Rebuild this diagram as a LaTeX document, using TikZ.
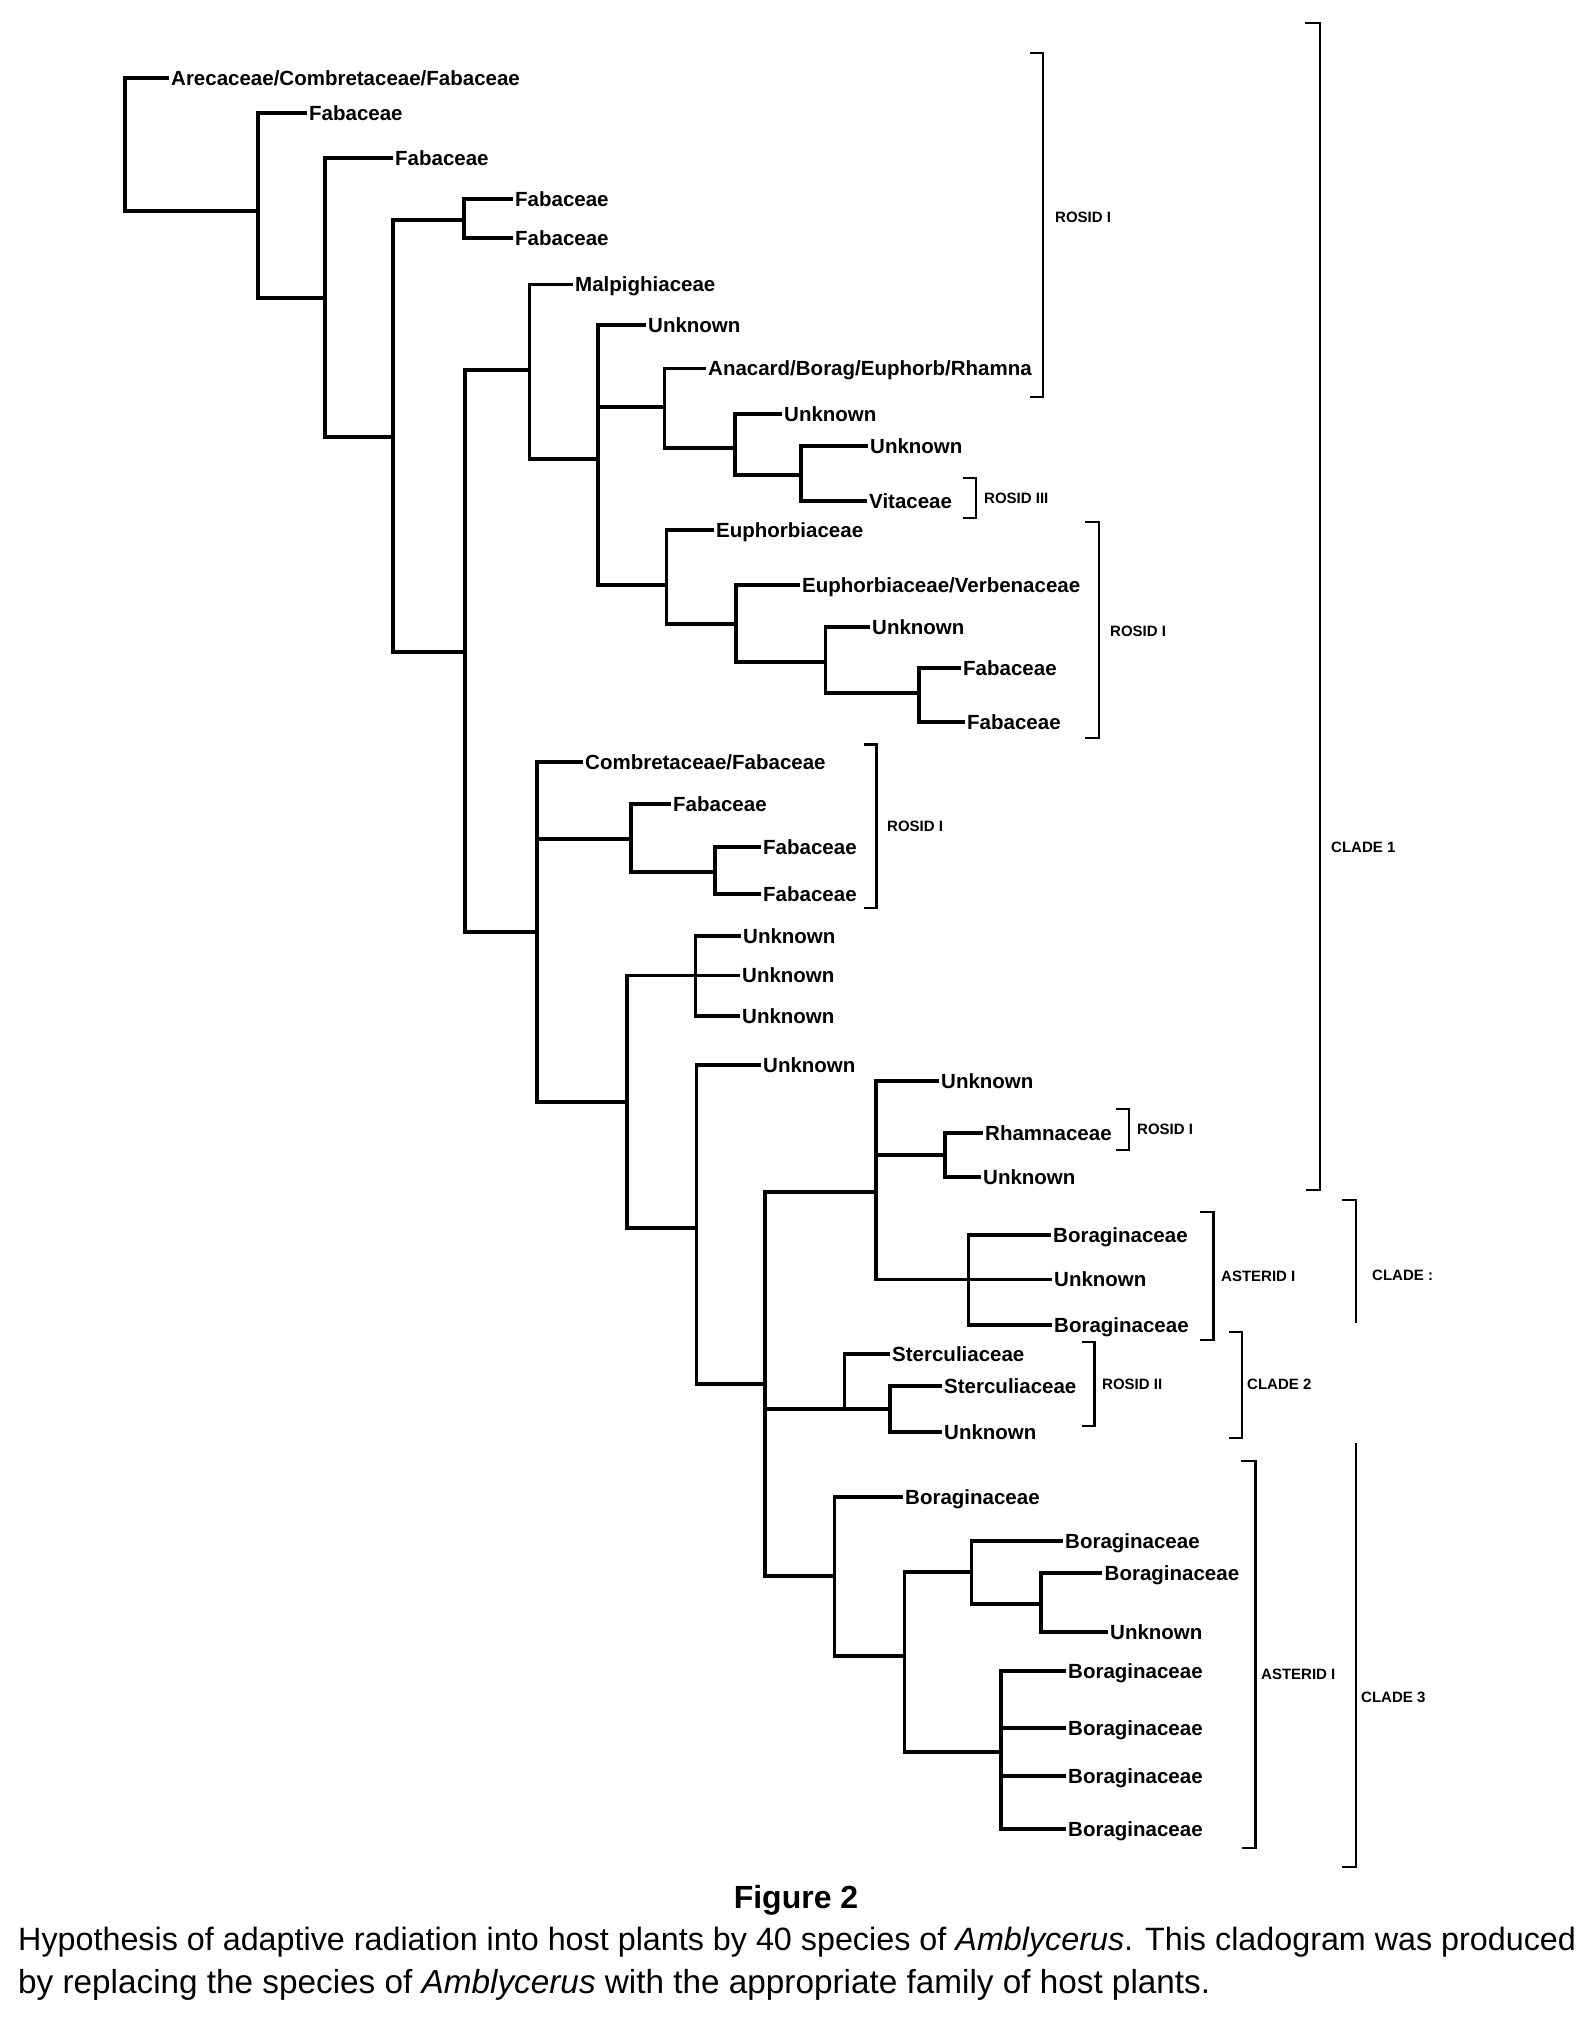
\documentclass[tikz,border=0pt]{standalone}
\usepackage{fontspec}
\setmainfont{Liberation Sans}
\usepackage{tikz}
\newcommand{\leaffont}{\fontsize{20.5pt}{24pt}\selectfont\bfseries}
\newcommand{\grpfont}{\fontsize{15pt}{18pt}\selectfont\bfseries}
\newcommand{\figfont}{\fontsize{32pt}{38pt}\selectfont\bfseries}
\newcommand{\capfont}{\fontsize{32.3pt}{39pt}\selectfont}
\newcommand{\capfontb}{\fontsize{33.3pt}{39pt}\selectfont}

\begin{document}
\begin{tikzpicture}[x=1pt,y=-1pt,
  leaf/.style={anchor=west,inner xsep=4pt,inner ysep=0pt,text height=14.7pt,text depth=0pt,font=\leaffont},
  grp/.style={anchor=west,inner sep=0pt,text height=10.7pt,text depth=0pt,font=\grpfont},
  br/.style={line width=3.1pt,line cap=rect},
  bk/.style={line width=2.5pt}
]
  \useasboundingbox (0,0) rectangle (1593,2018);

  \coordinate (root) at (125,211);
  \coordinate (n2)  at (258,211);
  \coordinate (n3)  at (325,298);
  \coordinate (n4)  at (393,437);
  \coordinate (n5)  at (464,220);
  \coordinate (n6)  at (465,652);
  \coordinate (n7)  at (529.5,370);
  \coordinate (n8)  at (598,459);
  \coordinate (n9)  at (664.5,407);
  \coordinate (n10) at (735,448);
  \coordinate (n11) at (801,475);
  \coordinate (n12) at (666.5,585);
  \coordinate (n13) at (736,624);
  \coordinate (n14) at (825.5,662);
  \coordinate (n15) at (919,693);
  \coordinate (n16) at (537,932);
  \coordinate (n17) at (631,839);
  \coordinate (n18) at (715,872);
  \coordinate (n19) at (627,1102);
  \coordinate (n20) at (695.5,975.5);
  \coordinate (n21) at (696.5,1228);
  \coordinate (n22) at (765,1384);
  \coordinate (n23) at (876,1192);
  \coordinate (n24) at (945,1155);
  \coordinate (n25) at (968.5,1279.5);
  \coordinate (n26) at (844.6,1409);
  \coordinate (n27) at (890,1409);
  \coordinate (n28) at (834.5,1576);
  \coordinate (n29) at (904.5,1656);
  \coordinate (n30) at (971.5,1572);
  \coordinate (n31) at (1041,1604);
  \coordinate (n32) at (1001,1752);

  \node[leaf] (t1)  at (167,78)     {Arecaceae/Combretaceae/Fabaceae};
  \node[leaf] (t2)  at (305,113)    {Fabaceae};
  \node[leaf] (t3)  at (391,158)    {Fabaceae};
  \node[leaf] (t4)  at (511,199)    {Fabaceae};
  \node[leaf] (t5)  at (511,238)    {Fabaceae};
  \node[leaf] (t6)  at (571,284.5)  {Malpighiaceae};
  \node[leaf] (t7)  at (644,325)    {Unknown};
  \node[leaf] (t8)  at (704,368.5)  {Anacard/Borag/Euphorb/Rhamna};
  \node[leaf] (t9)  at (780,414)    {Unknown};
  \node[leaf] (t10) at (866,446)    {Unknown};
  \node[leaf] (t11) at (865,501)    {Vitaceae};
  \node[leaf] (t12) at (712,530)    {Euphorbiaceae};
  \node[leaf] (t13) at (798,585)    {Euphorbiaceae/Verbenaceae};
  \node[leaf] (t14) at (868,627)    {Unknown};
  \node[leaf] (t15) at (959,668)    {Fabaceae};
  \node[leaf] (t16) at (963,722)    {Fabaceae};
  \node[leaf] (t17) at (581,762)    {Combretaceae/Fabaceae};
  \node[leaf] (t18) at (669,804)    {Fabaceae};
  \node[leaf] (t19) at (759,847)    {Fabaceae};
  \node[leaf] (t20) at (759,894)    {Fabaceae};
  \node[leaf] (t21) at (739,936)    {Unknown};
  \node[leaf] (t22) at (738,975.5)  {Unknown};
  \node[leaf] (t23) at (738,1016)   {Unknown};
  \node[leaf] (t24) at (759,1065)   {Unknown};
  \node[leaf] (t25) at (937,1081)   {Unknown};
  \node[leaf] (t26) at (981,1133)   {Rhamnaceae};
  \node[leaf] (t27) at (979,1177)   {Unknown};
  \node[leaf] (t28) at (1049,1235)  {Boraginaceae};
  \node[leaf] (t29) at (1050,1279.5){Unknown};
  \node[leaf] (t30) at (1050,1325)  {Boraginaceae};
  \node[leaf] (t31) at (888,1354)   {Sterculiaceae};
  \node[leaf] (t32) at (940,1386)   {Sterculiaceae};
  \node[leaf] (t33) at (940,1432)   {Unknown};
  \node[leaf] (t34) at (901,1497)   {Boraginaceae};
  \node[leaf] (t35) at (1061,1541)  {Boraginaceae};
  \node[leaf] (t36) at (1100.5,1573){Boraginaceae};
  \node[leaf] (t37) at (1106,1632)  {Unknown};
  \node[leaf] (t38) at (1064,1671)  {Boraginaceae};
  \node[leaf] (t39) at (1064,1728)  {Boraginaceae};
  \node[leaf] (t40) at (1064,1776)  {Boraginaceae};
  \node[leaf] (t41) at (1064,1829)  {Boraginaceae};

  \draw[br] (root) |- (t1.west); \draw[br] (root) |- (n2);
  \draw[br] (n2) |- (t2.west); \draw[br] (n2) |- (n3);
  \draw[br] (n3) |- (t3.west); \draw[br] (n3) |- (n4);
  \draw[br] (n4) |- (n5); \draw[br] (n4) |- (n6);
  \draw[br] (n5) |- (t4.west); \draw[br] (n5) |- (t5.west);
  \draw[br] (n6) |- (n7); \draw[br] (n6) |- (n16);
  \draw[br] (n7) |- (t6.west); \draw[br] (n7) |- (n8);
  \draw[br] (n8) |- (t7.west); \draw[br] (n8) |- (n9); \draw[br] (n8) |- (n12);
  \draw[br] (n9) |- (t8.west); \draw[br] (n9) |- (n10);
  \draw[br] (n10) |- (t9.west); \draw[br] (n10) |- (n11);
  \draw[br] (n11) |- (t10.west); \draw[br] (n11) |- (t11.west);
  \draw[br] (n12) |- (t12.west); \draw[br] (n12) |- (n13);
  \draw[br] (n13) |- (t13.west); \draw[br] (n13) |- (n14);
  \draw[br] (n14) |- (t14.west); \draw[br] (n14) |- (n15);
  \draw[br] (n15) |- (t15.west); \draw[br] (n15) |- (t16.west);
  \draw[br] (n16) |- (t17.west); \draw[br] (n16) |- (n17); \draw[br] (n16) |- (n19);
  \draw[br] (n17) |- (t18.west); \draw[br] (n17) |- (n18);
  \draw[br] (n18) |- (t19.west); \draw[br] (n18) |- (t20.west);
  \draw[br] (n19) |- (n20); \draw[br] (n19) |- (n21);
  \draw[br] (n20) |- (t21.west); \draw[br] (n20) |- (t22.west); \draw[br] (n20) |- (t23.west);
  \draw[br] (n21) |- (t24.west); \draw[br] (n21) |- (n22);
  \draw[br] (n22) |- (n23); \draw[br] (n22) |- (n26); \draw[br] (n22) |- (n28);
  \draw[br] (n23) |- (t25.west); \draw[br] (n23) |- (n24); \draw[br] (n23) |- (n25);
  \draw[br] (n24) |- (t26.west); \draw[br] (n24) |- (t27.west);
  \draw[br] (n25) |- (t28.west); \draw[br] (n25) |- (t29.west); \draw[br] (n25) |- (t30.west);
  \draw[br] (n26) |- (t31.west); \draw[br] (n26) |- (n27);
  \draw[br] (n27) |- (t32.west); \draw[br] (n27) |- (t33.west);
  \draw[br] (n28) |- (t34.west); \draw[br] (n28) |- (n29);
  \draw[br] (n29) |- (n30); \draw[br] (n29) |- (n32);
  \draw[br] (n30) |- (t35.west); \draw[br] (n30) |- (n31);
  \draw[br] (n31) |- (t36.west); \draw[br] (n31) |- (t37.west);
  \draw[br] (n32) |- (t38.west); \draw[br] (n32) |- (t39.west);
  \draw[br] (n32) |- (t40.west); \draw[br] (n32) |- (t41.west);

  \draw[bk] (1030,53) -| (1043,397) -- (1030,397);
  \draw[bk] (963,478) -| (976,518) -- (963,518);
  \draw[bk] (1085,522) -| (1099,738) -- (1085,738);
  \draw[bk] (864,744.5) -| (876.5,908) -- (864,908);
  \draw[bk] (1116,1109) -| (1129,1150) -- (1116,1150);
  \draw[bk] (1200,1212) -| (1213.5,1340) -- (1200,1340);
  \draw[bk] (1082,1342) -| (1094.5,1426) -- (1082,1426);
  \draw[bk] (1229,1332) -| (1242,1438) -- (1229,1438);
  \draw[bk] (1241,1461) -| (1255.5,1848) -- (1242,1848);
  \draw[bk] (1305,23) -| (1320,1190) -- (1306,1190);
  \draw[bk] (1342,1200) -| (1356,1323);
  \draw[bk] (1356,1443) |- (1342,1867);

  \node[grp] (rosid1a) at (1055,217)  {ROSID I};
  \node[grp] (rosid3)  at (984,498)   {ROSID III};
  \node[grp] (rosid1b) at (1110,631)  {ROSID I};
  \node[grp] (rosid1c) at (887,826)   {ROSID I};
  \node[grp] (rosid1d) at (1137,1129) {ROSID I};
  \node[grp] (aster1a) at (1221,1276) {ASTERID I};
  \node[grp] (rosid2)  at (1102,1384) {ROSID II};
  \node[grp] (clade2)  at (1247,1384) {CLADE 2};
  \node[grp] (aster1b) at (1261,1674) {ASTERID I};
  \node[grp] (clade1)  at (1331,847)  {CLADE 1};
  \node[grp] (cladex)  at (1372,1275) {CLADE :};
  \node[grp] (clade3)  at (1361,1697) {CLADE 3};

  \node[anchor=base,inner sep=0pt,font=\figfont] (fig) at (796,1908) {Figure 2};
  \node[anchor=base west,inner sep=0pt,font=\capfont] (cap1) at (18,1950)
    {Hypothesis of adaptive radiation into host plants by 40 species of \textit{Amblycerus}. This cladogram was produced};
  \node[anchor=base west,inner sep=0pt,font=\capfontb] (cap2) at (18,1993)
    {by replacing the species of \textit{Amblycerus} with the appropriate family of host plants.};
\end{tikzpicture}
\end{document}
